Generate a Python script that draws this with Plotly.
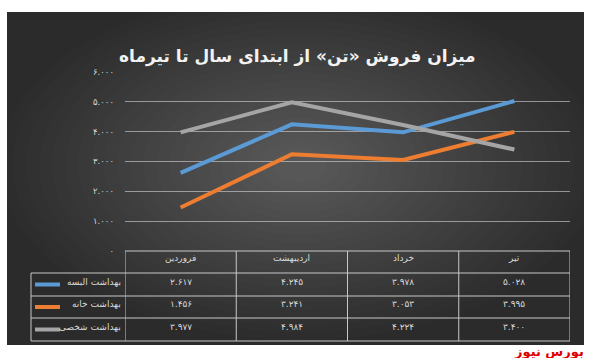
import plotly.graph_objects as go

W, H = 593, 358
L, R, T, B = 125, 23, 72, 107

categories = ["فروردین", "اردیبهشت", "خرداد", "تیر"]
series_names = ["بهداشت البسه", "بهداشت خانه", "بهداشت شخصی"]
clothing = [2617, 4245, 3978, 5028]
home = [1456, 3241, 3053, 3995]
personal = [3977, 4984, 4224, 3400]
y_ticks = [0, 1000, 2000, 3000, 4000, 5000, 6000]
colors = ["#5B9BD5", "#ED7D31", "#A5A5A5"]
title_text = "میزان فروش «تن» از ابتدای سال تا تیرماه"
watermark = "بورس نیوز"

FA = str.maketrans("0123456789", "۰۱۲۳۴۵۶۷۸۹")


def fa_num(v):
    if v == 0:
        return "0".translate(FA)
    return f"{v:,}".replace(",", ".").translate(FA)


def px(x):
    return (x - L) / (W - L - R)


def py(y):
    return (H - B - y) / (H - T - B)


all_series = [clothing, home, personal]
fig = go.Figure()
for name, vals, c in zip(series_names, all_series, colors):
    fig.add_trace(go.Scatter(x=categories, y=vals, mode="lines", name=name,
                             line=dict(color=c, width=4), showlegend=False))

shapes = []
shapes.append(dict(type="rect", xref="paper", yref="paper", x0=px(7), x1=px(584),
                   y0=py(345), y1=py(12), fillcolor="#2b2b2b", line=dict(width=0), layer="below"))
cx, cy = 300, 165
n = 22
for k in range(n):
    rx = 300 - k * 13
    ry = 175 - k * 7.5
    shapes.append(dict(type="circle", xref="paper", yref="paper",
                       x0=px(cx - rx), x1=px(cx + rx), y0=py(cy + ry), y1=py(cy - ry),
                       fillcolor="rgba(255,255,255,0.011)", line=dict(width=0), layer="below"))

bc = "#c8c8c8"
row_y = [251, 273, 296, 318, 341]
shapes.append(dict(type="line", xref="x", yref="paper", x0=-0.5, x1=3.5,
                   y0=py(row_y[0]), y1=py(row_y[0]), line=dict(color=bc, width=1)))
for yy in row_y[1:]:
    shapes.append(dict(type="line", xref="paper", yref="paper", x0=px(31), x1=1,
                       y0=py(yy), y1=py(yy), line=dict(color=bc, width=1)))
for i in range(len(categories) + 1):
    shapes.append(dict(type="line", xref="x", yref="paper", x0=i - 0.5, x1=i - 0.5,
                       y0=py(row_y[0]), y1=py(row_y[-1]), line=dict(color=bc, width=1)))
shapes.append(dict(type="line", xref="paper", yref="paper", x0=px(31), x1=px(31),
                   y0=py(row_y[1]), y1=py(row_y[-1]), line=dict(color=bc, width=1)))

annotations = []
tc = "#d9d9d9"
tf = dict(family="DejaVu Sans", size=9, color=tc)
for i, cat in enumerate(categories):
    annotations.append(dict(x=cat, y=py((row_y[0] + row_y[1]) / 2), xref="x", yref="paper",
                            text=cat, showarrow=False, font=tf, yshift=-3))
for r, (name, vals, c) in enumerate(zip(series_names, all_series, colors)):
    yc = py((row_y[r + 1] + row_y[r + 2]) / 2)
    for cat, v in zip(categories, vals):
        annotations.append(dict(x=cat, y=yc, xref="x", yref="paper", text=fa_num(v),
                                showarrow=False, font=tf, yshift=-4))
    annotations.append(dict(x=px(123), y=yc, xref="paper", yref="paper", text=name,
                            showarrow=False, xanchor="right", font=tf, yshift=-4))
    shapes.append(dict(type="line", xref="paper", yref="paper", x0=px(35), x1=px(60),
                       y0=yc, y1=yc, line=dict(color=c, width=4)))

annotations.append(dict(x=px(297), y=py(44), xref="paper", yref="paper", text="<b>" + title_text + "</b>",
                        showarrow=False, font=dict(family="DejaVu Sans", size=17, color="#f2f2f2")))
annotations.append(dict(x=px(586), y=py(351), xref="paper", yref="paper", text="<b>" + watermark + "</b>",
                        showarrow=False, xanchor="right", yanchor="middle",
                        font=dict(family="DejaVu Sans", size=13, color="#e00000")))

fig.update_layout(
    width=W, height=H,
    margin=dict(l=L, r=R, t=T, b=B, pad=0),
    paper_bgcolor="white", plot_bgcolor="rgba(0,0,0,0)",
    shapes=shapes, annotations=annotations,
    xaxis=dict(range=[-0.5, 3.5], showticklabels=False, showgrid=False, zeroline=False,
               showline=False, fixedrange=True),
    yaxis=dict(range=[0, 6000], tickvals=y_ticks, ticktext=[fa_num(v) for v in y_ticks],
               showgrid=True, gridcolor="rgba(215,215,215,0.6)", gridwidth=1, zeroline=False,
               showline=False, ticklabelstandoff=10,
               tickfont=dict(family="DejaVu Sans", size=8.5, color=tc)),
)

fig.write_html("out.html", config={"displayModeBar": False},
               post_script="document.body.style.margin='0';")
